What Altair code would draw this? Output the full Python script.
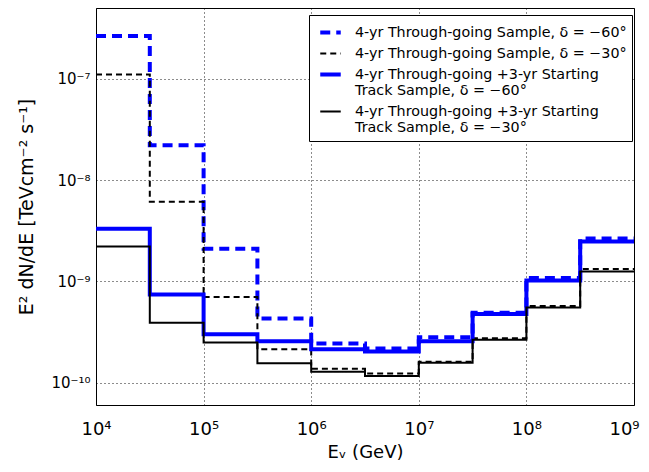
import altair as alt
import pandas as pd
import math

# bin edges (GeV), half-decade bins
edges = [1e4, 3.1623e4, 1e5, 3.1623e5, 1e6, 3.1623e6, 1e7, 3.1623e7, 1e8, 3.1623e8, 1e9]

# E^2 dN/dE values per bin
thr_60 = [2.65e-7, 2.2e-8, 2.1e-9, 4.3e-10, 2.43e-10, 2.17e-10, 2.8e-10, 4.9e-10, 1.08e-9, 2.64e-9]
thr_30 = [1.1e-7, 6.1e-9, 7.0e-10, 2.13e-10, 1.37e-10, 1.23e-10, 1.6e-10, 2.74e-10, 5.7e-10, 1.32e-9]
comb_60 = [3.3e-9, 7.4e-10, 3.0e-10, 2.56e-10, 2.13e-10, 2.03e-10, 2.56e-10, 4.75e-10, 1.02e-9, 2.47e-9]
comb_30 = [2.2e-9, 3.9e-10, 2.48e-10, 1.55e-10, 1.28e-10, 1.16e-10, 1.57e-10, 2.64e-10, 5.52e-10, 1.25e-9]

names = [
    "4-yr Through-going Sample, δ = −60°",
    "4-yr Through-going Sample, δ = −30°",
    "4-yr Through-going +3-yr Starting\nTrack Sample, δ = −60°",
    "4-yr Through-going +3-yr Starting\nTrack Sample, δ = −30°",
]
colors = ["#0000ff", "#000000", "#0000ff", "#000000"]
dashes = [[10, 6], [6, 4], [1, 0], [1, 0]]
widths = [4, 2, 4, 2]

x_ticks = [1e4, 1e5, 1e6, 1e7, 1e8, 1e9]
x_labels = ["10⁴", "10⁵", "10⁶", "10⁷", "10⁸", "10⁹"]
y_ticks = [1e-10, 1e-9, 1e-8, 1e-7]
y_labels = ["10⁻¹⁰", "10⁻⁹", "10⁻⁸", "10⁻⁷"]

rows = []
for name, vals in zip(names, [thr_60, thr_30, comb_60, comb_30]):
    for i, e in enumerate(edges):
        rows.append({"E": e, "flux": vals[min(i, len(vals) - 1)], "series": name, "order": i})
df = pd.DataFrame(rows)


def label_expr(ticks, labels, tol):
    expr = "''"
    for t, l in zip(ticks, labels):
        expr = f"abs(log(datum.value)/log(10) - ({math.log10(t)})) < {tol} ? '{l}' : ({expr})"
    return expr


legend = alt.Legend(
    title=None,
    orient="none",
    legendX=213,
    legendY=7,
    fillColor="white",
    strokeColor="black",
    padding=5,
    labelFont="DejaVu Sans",
    labelFontSize=14.3,
    labelColor="black",
    labelLimit=0,
    labelOffset=12,
    labelExpr="split(datum.label, '\\n')",
    symbolType="stroke",
    symbolSize=420,
    symbolOffset=4,
    rowPadding=1,
)

chart = (
    alt.Chart(df)
    .mark_line(interpolate="step-after", strokeCap="butt", strokeJoin="miter")
    .encode(
        x=alt.X(
            "E:Q",
            scale=alt.Scale(type="log", domain=[1e4, 1e9], nice=False),
            axis=alt.Axis(
                title="Eᵥ (GeV)",
                values=x_ticks,
                labelExpr=label_expr(x_ticks, x_labels, 0.01),
                labelFontSize=18,
                labelPadding=15,
                labelOffset={"condition": {"test": "datum.value > 5e8", "value": -10}, "value": 0},
                titleFontSize=18,
                titleFontWeight="normal",
                titlePadding=5,
                grid=True,
                gridColor="black",
                gridDash=[1, 3],
                gridOpacity=0.9,
                ticks=False,
                domain=False,
                labelFlush=False,
            ),
        ),
        y=alt.Y(
            "flux:Q",
            scale=alt.Scale(type="log", domain=[6e-11, 5e-7], nice=False),
            axis=alt.Axis(
                title="E² dN/dE [TeVcm⁻² s⁻¹]",
                values=y_ticks,
                labelExpr=label_expr(y_ticks, y_labels, 0.01),
                labelFontSize=15,
                labelPadding=6,
                titleFontSize=19,
                titleFontWeight="normal",
                titlePadding=14,
                grid=True,
                gridColor="black",
                gridDash=[1, 3],
                gridOpacity=0.9,
                ticks=False,
                domain=False,
            ),
        ),
        color=alt.Color("series:N", scale=alt.Scale(domain=names, range=colors), legend=legend),
        strokeDash=alt.StrokeDash("series:N", scale=alt.Scale(domain=names, range=dashes), legend=legend),
        strokeWidth=alt.StrokeWidth(
            "series:N", scale=alt.Scale(type="ordinal", domain=names, range=widths), legend=legend
        ),
        order="order:Q",
    )
    .properties(
        width=538,
        height=397,
        autosize=alt.AutoSizeParams(type="none"),
        padding={"left": 88, "top": 0, "right": 7, "bottom": 59},
    )
    .configure(font="DejaVu Sans")
    .configure_axis(labelColor="black", titleColor="black", labelFont="DejaVu Sans", titleFont="DejaVu Sans")
    .configure_view(stroke="black", strokeWidth=1)
)

chart.save("out.html", embed_options={"renderer": "svg", "actions": False})
